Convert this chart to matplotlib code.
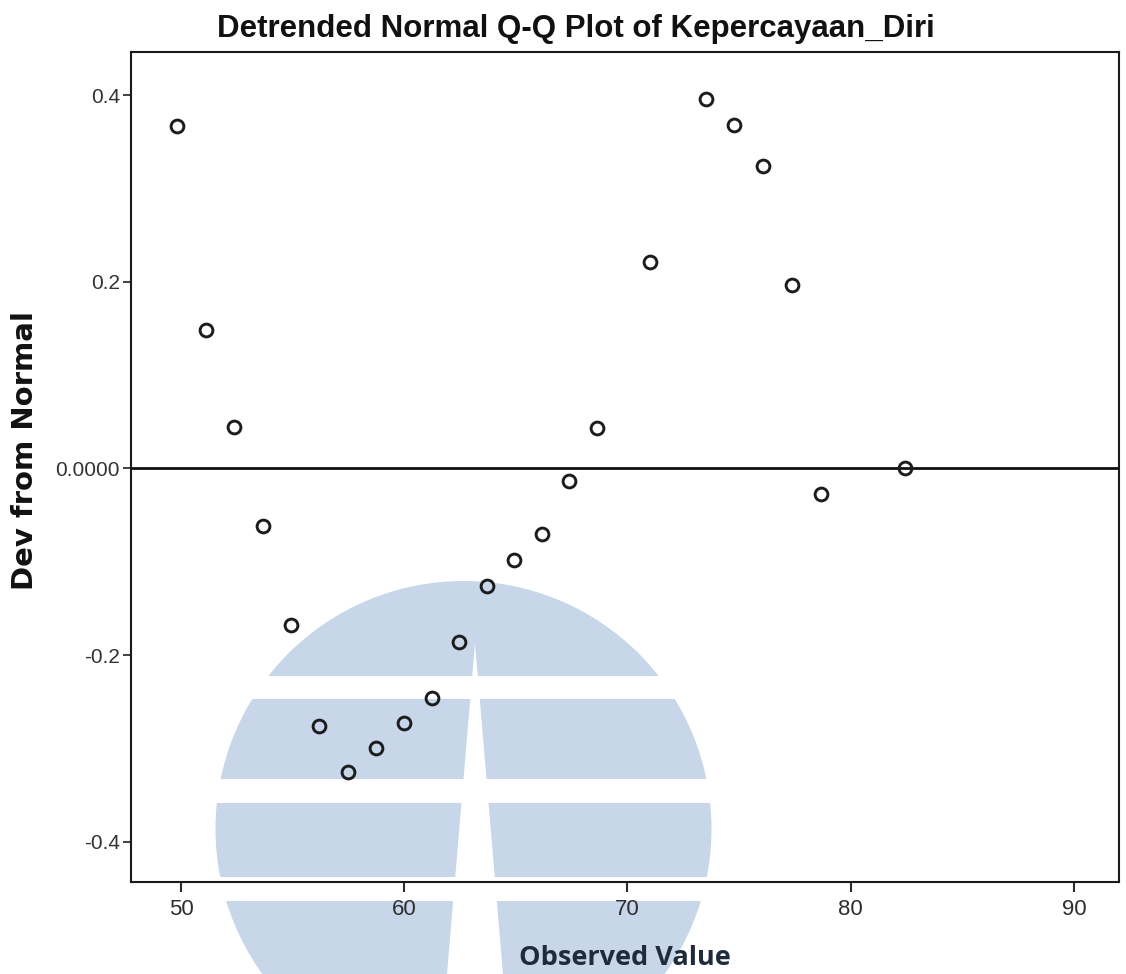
import numpy as np
import matplotlib
matplotlib.use('Agg')
import matplotlib.pyplot as plt
from matplotlib.patches import Circle, Rectangle, Polygon

# Detrended normal Q-Q data: observed scores vs. deviation from normal
observed = [49.83, 51.12, 52.38, 53.66, 54.92, 56.19, 57.46, 58.72, 59.97, 61.23,
            62.46, 63.72, 64.92, 66.18, 67.39, 68.62, 71.01, 73.52, 74.78, 76.08,
            77.35, 78.66, 82.42]
dev_normal = [0.367, 0.148, 0.045, -0.062, -0.168, -0.276, -0.325, -0.300, -0.273, -0.246,
              -0.186, -0.126, -0.098, -0.070, -0.013, 0.043, 0.221, 0.396, 0.368, 0.324,
              0.197, -0.027, 0.001]

x_ticks = [50, 60, 70, 80, 90]
y_ticks = [-0.4, -0.2, 0.0, 0.2, 0.4]
y_tick_labels = ['-0.4', '-0.2', '0.0000', '0.2', '0.4']

plt.rcParams['font.family'] = ['Liberation Sans', 'DejaVu Sans']

W, H = 1126, 974
fig = plt.figure(figsize=(W / 100, H / 100), dpi=100)
fig.patch.set_facecolor('white')

# logo watermark sitting behind the plot (pixel coordinates)
bg = fig.add_axes([0, 0, 1, 1], zorder=0)
bg.set_xlim(0, W)
bg.set_ylim(H, 0)
bg.axis('off')
logo_blue = '#c7d6e9'
bg.add_patch(Circle((463.5, 829), 248, color=logo_blue, lw=0))
for y0, y1 in [(676, 699), (779, 803), (877, 901)]:
    bg.add_patch(Rectangle((200, y0), 530, y1 - y0, color='white', lw=0))
bg.add_patch(Polygon([(475, 643), (503, 974), (447, 974)], closed=True,
                     color='white', lw=0))

# main plot
ax = fig.add_axes([131 / W, 1 - 882 / H, (1119 - 131) / W, (882 - 52) / H], zorder=1)
ax.set_facecolor('none')

ax.axhline(0, color='#111111', lw=2, zorder=2)
ax.plot(observed, dev_normal, 'o', mfc='none', mec='#1c1c1c', ms=9.2, mew=2.1,
        linestyle='none', zorder=3)

ax.set_xlim(47.76, 92.02)
ax.set_ylim(-0.4434, 0.4466)
ax.set_xticks(x_ticks)
ax.set_yticks(y_ticks, y_tick_labels)

ax.tick_params(axis='x', direction='out', length=7, width=1.5, pad=5,
               labelsize=16, colors='#2e2e2e')
ax.tick_params(axis='y', direction='out', length=6, width=1.3, pad=2,
               labelsize=15, colors='#333333')
for sp in ax.spines.values():
    sp.set_linewidth(1.5)
    sp.set_color('#1a1a1a')

fig.text(576 / W, 1 - 37 / H, 'Detrended Normal Q-Q Plot of Kepercayaan_Diri',
         fontsize=22.5, fontweight='bold', ha='center', va='baseline', color='#111111')
fig.text(33 / W, 1 - 450 / H, 'Dev from Normal', family='DejaVu Sans',
         fontweight='bold', fontsize=21, rotation=90, rotation_mode='anchor',
         ha='center', va='baseline', color='#111111')
fig.text(625 / W, 1 - 965 / H, 'Observed Value', family='Open Sans',
         fontweight='bold', fontsize=19.5, ha='center', va='baseline', color='#1e2b3a')

fig.savefig('out.png', dpi=100)
